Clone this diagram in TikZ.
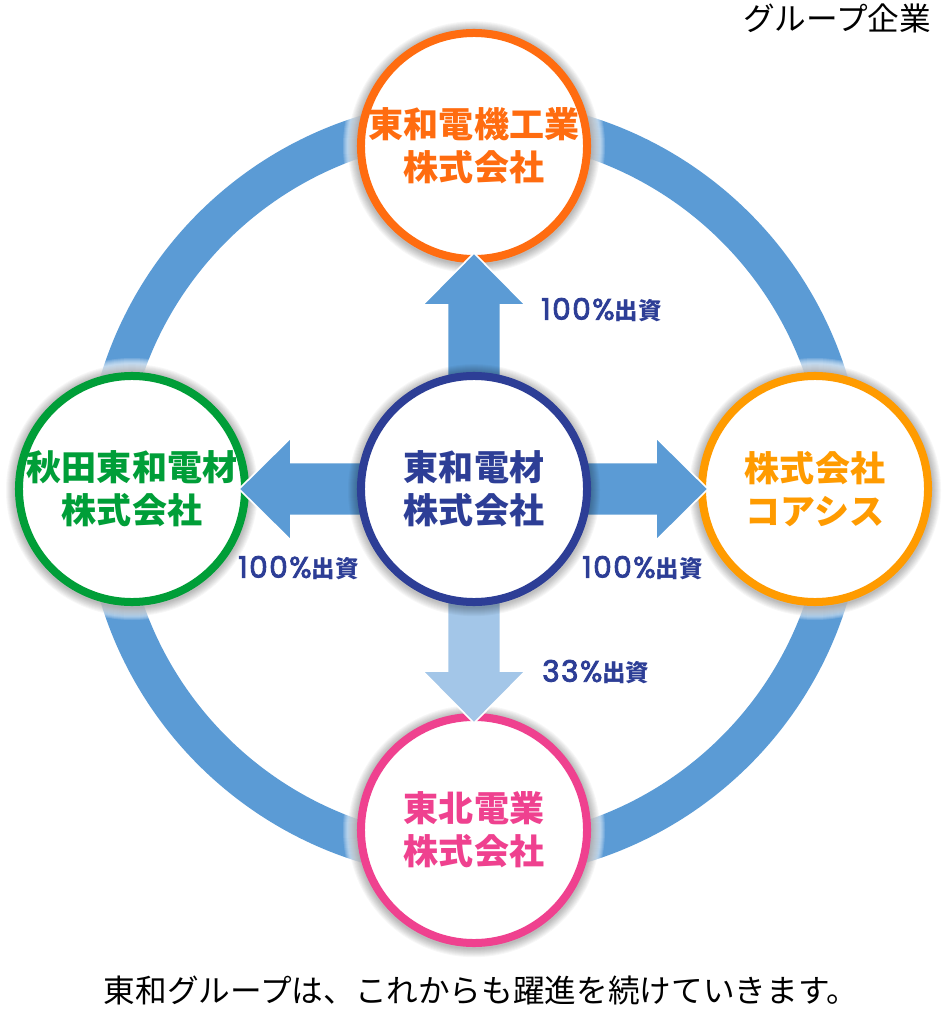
\documentclass[tikz,border=0pt]{standalone}
\usepackage{fontspec}
\newfontfamily\cjk{Noto Sans CJK JP}
\newfontfamily\pctnum{Poppins}[FakeBold=3,LetterSpace=5]
\usetikzlibrary{calc,backgrounds}
\definecolor{ringblue}{RGB}{91,155,213}
\definecolor{paleblue}{RGB}{163,198,232}
\definecolor{navy}{RGB}{45,62,150}
\definecolor{kikiorange}{RGB}{255,108,16}
\definecolor{akitagreen}{RGB}{0,158,56}
\definecolor{coaorange}{RGB}{255,155,0}
\definecolor{tohokupink}{RGB}{239,65,143}
\tikzset{firm/.style={circle, draw=#1, text=#1, fill=white, line width=0.2cm, minimum size=5.65cm, inner sep=0pt, align=center, font=\cjk\bfseries\fontsize{24.9}{30.6}\selectfont}}
\tikzstyle{stake}=[text=navy, inner sep=0pt, anchor=west, font=\cjk\bfseries\fontsize{16.7}{20}\selectfont]
\tikzstyle{ring}=[draw=ringblue, line width=1cm]
\newcommand\pct[1]{{\pctnum\mdseries\fontsize{21}{20}\selectfont #1\%}}
\newcommand\stakearrow[3]{%
	\coordinate (tip) at ($(#2.center)!2.675cm!(#1)$);
	\coordinate (neck) at ($(tip)!1.3cm!(#1)$);
	\filldraw[fill=#3, draw=white, line width=0.04cm] ($(#1)!0.6625cm!90:(tip)$) -- ($(neck)!0.6625cm!-90:(#1)$) -- ($(neck)!1.2875cm!-90:(#1)$) -- (tip) -- ($(neck)!1.2875cm!90:(#1)$) -- ($(neck)!0.6625cm!90:(#1)$) -- ($(#1)!0.6625cm!-90:(tip)$) -- cycle;
}
\begin{document}
\begin{tikzpicture}[x=0.025cm,y=-0.025cm]
\useasboundingbox (0,0) rectangle (948,1010);
\coordinate (hub) at (474,489);
\node[firm=kikiorange] (kiki) at (474,146) {東和電機工業\\株式会社};
\node[firm=akitagreen] (akita) at (132,489) {秋田東和電材\\株式会社};
\node[firm=coaorange] (coa) at (815,489) {株式会社\\コアシス};
\node[firm=tohokupink] (tohoku) at (474,830) {東北電業\\株式会社};
\begin{scope}[on background layer]
	\draw[ring] (hub) circle[radius=370];
	\foreach \n in {kiki,akita,coa,tohoku} {
		\foreach \k in {14,...,1} \fill[white,opacity=0.15] (\n) circle[radius=117+\k];
		\foreach \k in {1,...,9} \fill[black,opacity=0.03] ([yshift=-0.03cm]\n) circle[radius=117+\k];
	}
\end{scope}
\stakearrow{hub}{kiki}{ringblue}
\stakearrow{hub}{akita}{ringblue}
\stakearrow{hub}{coa}{ringblue}
\stakearrow{hub}{tohoku}{paleblue}
\foreach \k in {1,...,9} \fill[black,opacity=0.03] ([yshift=-0.03cm]hub) circle[radius=117+\k];
\node[firm=navy] (towa) at (hub) {東和電材\\株式会社};
\node[stake] (pkiki) at (541,310) {\pct{100}出資};
\node[stake] (pakita) at (238,568) {\pct{100}出資};
\node[stake] (pcoa) at (582,568) {\pct{100}出資};
\node[stake] (ptohoku) at (542,672) {\pct{33}出資};
\node[anchor=east, font=\cjk\fontsize{22.5}{27}\selectfont] (group) at (936,18) {グループ企業};
\node[font=\cjk\fontsize{22.5}{27}\selectfont] (motto) at (481,990) {東和グループは、これからも躍進を続けていきます。};
\end{tikzpicture}
\end{document}
